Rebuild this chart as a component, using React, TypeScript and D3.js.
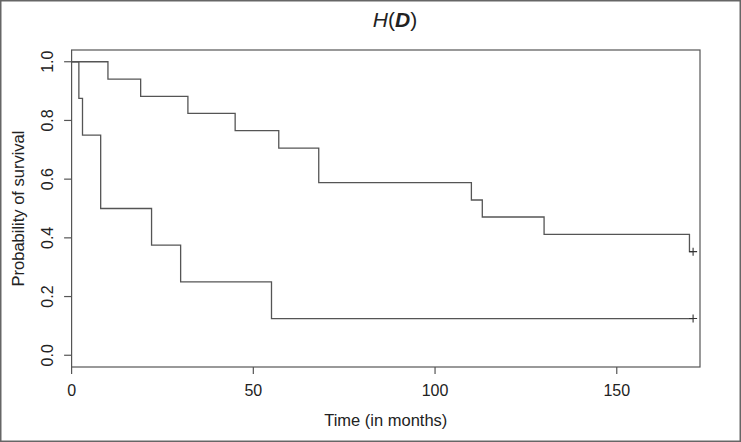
import * as d3 from "d3"

// Kaplan-Meier curves
const upperTimes = [0, 10, 19, 32, 45, 57, 68, 110, 113, 130, 170]
const upperSurv = [1, 0.941, 0.882, 0.824, 0.765, 0.706, 0.588, 0.529, 0.471, 0.412, 0.353]
const upperCensor = [171]

const lowerTimes = [0, 2, 3, 8, 22, 30, 55]
const lowerSurv = [1, 0.875, 0.75, 0.5, 0.375, 0.25, 0.125]
const lowerCensor = [171]

const xTicks = [0, 50, 100, 150]
const yTicks = [0, 0.2, 0.4, 0.6, 0.8, 1.0]

const W = 741
const H = 442
const margin = { top: 50, right: 41, bottom: 75, left: 71.6 }
const font = "'Liberation Sans', Arial, Helvetica, sans-serif"
const ink = "#555"

type Pt = { t: number; s: number }

const toPoints = (times: number[], surv: number[], censor: number[]): Pt[] => {
  const pts = times.map((t, i) => ({ t, s: surv[i] }))
  const last = surv[surv.length - 1]
  censor.forEach((c) => pts.push({ t: c, s: last }))
  return pts
}

export default function App() {
  const x = d3.scaleLinear().domain([0, 172.9]).range([margin.left, W - margin.right])
  const y = d3.scaleLinear().domain([-0.04, 1.04]).range([H - margin.bottom, margin.top])

  const line = d3
    .line<Pt>()
    .x((d) => x(d.t))
    .y((d) => y(d.s))
    .curve(d3.curveStepAfter)

  const curves = [
    { pts: toPoints(upperTimes, upperSurv, upperCensor), censor: upperCensor, last: upperSurv[upperSurv.length - 1] },
    { pts: toPoints(lowerTimes, lowerSurv, lowerCensor), censor: lowerCensor, last: lowerSurv[lowerSurv.length - 1] },
  ]

  const [x0, x1] = x.range()
  const [yb, yt] = y.range()

  return (
    <svg width={W} height={H} style={{ position: "absolute", left: 0, top: 0, background: "#fff" }} fontFamily={font}>
      <rect x={0.75} y={0.75} width={W - 1.5} height={H - 1.5} fill="#fff" stroke="#666" strokeWidth={1.5} />

      {/* title */}
      <text x={395} y={27} textAnchor="middle" fontSize={21} fill="#222">
        <tspan fontStyle="italic">H</tspan>
        <tspan>(</tspan>
        <tspan fontStyle="italic" fontWeight="bold">D</tspan>
        <tspan>)</tspan>
      </text>

      {/* plot box */}
      <rect x={x0} y={yt} width={x1 - x0} height={yb - yt} fill="none" stroke={ink} strokeWidth={1.2} />

      {/* x axis */}
      {xTicks.map((t) => (
        <g key={"x" + t}>
          <line x1={x(t)} x2={x(t)} y1={yb} y2={yb + 7} stroke={ink} strokeWidth={1.2} />
          <text x={x(t)} y={396} textAnchor="middle" fontSize={16} fill="#222">
            {t}
          </text>
        </g>
      ))}
      <text x={(x0 + x1) / 2} y={426} textAnchor="middle" fontSize={16.5} fill="#222">
        Time (in months)
      </text>

      {/* y axis */}
      {yTicks.map((t) => (
        <g key={"y" + t}>
          <line x1={x0 - 7.5} x2={x0} y1={y(t)} y2={y(t)} stroke={ink} strokeWidth={1.2} />
          <text
            transform={`translate(53,${y(t)}) rotate(-90)`}
            textAnchor="middle"
            fontSize={16}
            fill="#222"
          >
            {t.toFixed(1)}
          </text>
        </g>
      ))}
      <text
        transform={`translate(23.5,${(yt + yb) / 2}) rotate(-90)`}
        textAnchor="middle"
        fontSize={16.5}
        fill="#222"
      >
        Probability of survival
      </text>

      {/* survival curves */}
      {curves.map((c, i) => (
        <g key={"c" + i}>
          <path d={line(c.pts) ?? ""} fill="none" stroke={ink} strokeWidth={1.3} />
          {c.censor.map((t) => (
            <path
              key={t}
              d={`M${x(t) - 4},${y(c.last)}h8M${x(t)},${y(c.last) - 4}v8`}
              stroke="#333"
              strokeWidth={1.1}
            />
          ))}
        </g>
      ))}
    </svg>
  )
}
